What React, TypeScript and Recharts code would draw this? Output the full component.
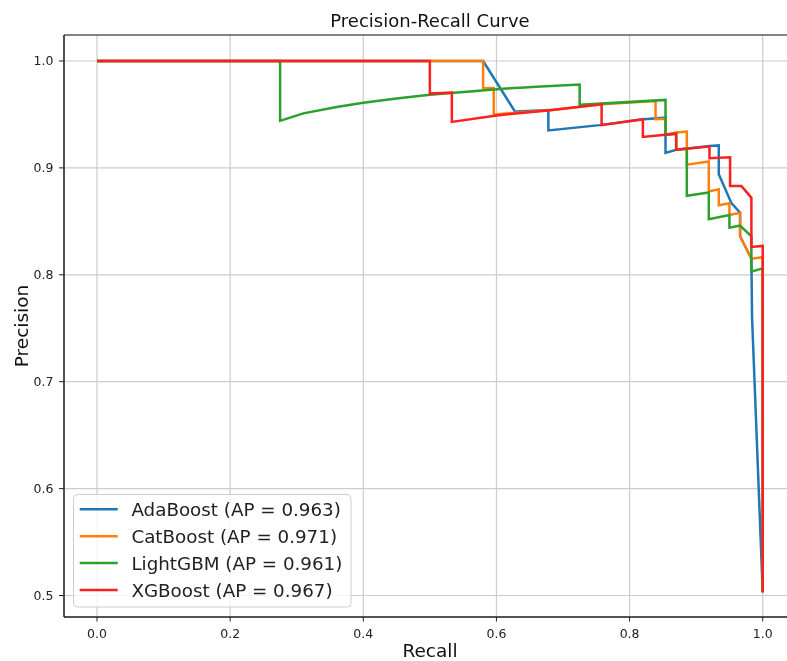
import React from 'react';
import { LineChart, Line, XAxis, YAxis, CartesianGrid, Legend, ReferenceArea, Label } from 'recharts';

const FONT = '"DejaVu Sans", Verdana, sans-serif';

const xTicks = [0, 0.2, 0.4, 0.6, 0.8, 1.0];
const yTicks = [0.5, 0.6, 0.7, 0.8, 0.9, 1.0];

const seriesNames = [
  'AdaBoost (AP = 0.963)',
  'CatBoost (AP = 0.971)',
  'LightGBM (AP = 0.961)',
  'XGBoost (AP = 0.967)',
];
const seriesColors = ['#1f77b4', '#ff7f0e', '#2ca02c', '#ff1f1f'];

const adaRecall = [0, 0.58, 0.628, 0.678, 0.678, 0.755, 0.821, 0.854, 0.854, 0.87, 0.92, 0.934, 0.934, 0.953, 0.966, 0.966, 0.983, 0.984, 1.0];
const adaPrecision = [1.0, 1.0, 0.9526, 0.954, 0.935, 0.94, 0.9455, 0.947, 0.914, 0.917, 0.9205, 0.921, 0.894, 0.867, 0.858, 0.836, 0.815, 0.76, 0.503];

const catRecall = [0, 0.58, 0.58, 0.596, 0.596, 0.68, 0.758, 0.839, 0.839, 0.854, 0.854, 0.87, 0.886, 0.886, 0.919, 0.919, 0.934, 0.934, 0.95, 0.95, 0.966, 0.966, 0.983, 1.0, 1.0];
const catPrecision = [1.0, 1.0, 0.9745, 0.9748, 0.95, 0.954, 0.9595, 0.9626, 0.9455, 0.946, 0.931, 0.933, 0.934, 0.903, 0.906, 0.878, 0.88, 0.865, 0.867, 0.856, 0.858, 0.836, 0.815, 0.8165, 0.503];

const lgbRecall = [0, 0.275, 0.275, 0.29, 0.31, 0.36, 0.4, 0.45, 0.5, 0.56, 0.61, 0.66, 0.725, 0.725, 0.854, 0.854, 0.87, 0.87, 0.886, 0.886, 0.919, 0.919, 0.95, 0.95, 0.966, 0.983, 0.983, 1.0, 1.0];
const lgbPrecision = [1.0, 1.0, 0.944, 0.947, 0.951, 0.957, 0.961, 0.965, 0.9685, 0.9715, 0.974, 0.976, 0.978, 0.959, 0.9636, 0.931, 0.932, 0.917, 0.918, 0.874, 0.877, 0.852, 0.856, 0.844, 0.846, 0.836, 0.803, 0.806, 0.503];

const xgbRecall = [0, 0.5, 0.5, 0.533, 0.533, 0.6, 0.68, 0.758, 0.758, 0.82, 0.82, 0.87, 0.87, 0.92, 0.92, 0.951, 0.951, 0.968, 0.983, 0.983, 1.0, 1.0];
const xgbPrecision = [1.0, 1.0, 0.9695, 0.9705, 0.943, 0.949, 0.954, 0.9595, 0.94, 0.9455, 0.929, 0.932, 0.917, 0.92, 0.909, 0.91, 0.883, 0.883, 0.872, 0.826, 0.827, 0.503];

const toPoints = (rs: number[], ps: number[]) => rs.map((r, i) => ({ r, p: ps[i] }));
const seriesData = [
  toPoints(adaRecall, adaPrecision),
  toPoints(catRecall, catPrecision),
  toPoints(lgbRecall, lgbPrecision),
  toPoints(xgbRecall, xgbPrecision),
];

const W = 779;
const H = 653;
const X_DOMAIN: [number, number] = [-0.0496, 1.05];
const Y_DOMAIN: [number, number] = [0.4799, 1.0243];

const LegendBox = (props: any) => {
  const payload = (props.payload || []) as any[];
  return (
    <svg width={279} height={114} style={{ display: 'block', overflow: 'visible' }}>
      <rect x={0.5} y={0.5} width={277.5} height={112.5} rx={4} ry={4} fill="#ffffff" fillOpacity={0.8} stroke="#cccccc" strokeWidth={1} />
      {payload.map((entry, i) => {
        const cy = 15.3 + i * 26.9;
        return (
          <g key={i}>
            <line x1={6.7} x2={44.7} y1={cy} y2={cy} stroke={entry.color} strokeWidth={2.5} />
            <text x={58.4} y={cy + 6.7} fontSize={18.3} fontFamily={FONT} fill="#222">{entry.value}</text>
          </g>
        );
      })}
    </svg>
  );
};

export default function App() {
  return (
    <div style={{ position: 'fixed', left: 8, top: 8, width: W, height: H, overflow: 'hidden' }}>
      <LineChart width={W} height={H} margin={{ top: 27, right: -9, bottom: 0, left: 0 }}>
        <CartesianGrid stroke="#cccccc" strokeWidth={1.2} />
        <XAxis
          type="number"
          dataKey="r"
          domain={X_DOMAIN}
          allowDataOverflow
          ticks={xTicks}
          tickFormatter={(v: number) => v.toFixed(1)}
          height={44}
          tickSize={4.5}
          tickMargin={7.3}
          stroke="#222"
          tick={{ fill: '#222', fontSize: 12.5, fontFamily: FONT }}
        >
          <Label
            content={(p: any) => {
              const vb = p.viewBox || { x: 56, y: 609, width: 732, height: 44 };
              return (
                <text x={vb.x + vb.width / 2} y={vb.y + vb.height - 4} textAnchor="middle" fontSize={18.5} fontFamily={FONT} fill="#111">Recall</text>
              );
            }}
          />
        </XAxis>
        <YAxis
          type="number"
          dataKey="p"
          domain={Y_DOMAIN}
          allowDataOverflow
          ticks={yTicks}
          tickFormatter={(v: number) => v.toFixed(1)}
          width={56}
          tickSize={5}
          tickMargin={5.5}
          stroke="#222"
          tick={{ fill: '#222', fontSize: 12.5, fontFamily: FONT }}
        >
          <Label
            content={(p: any) => {
              const vb = p.viewBox || { x: 0, y: 27, width: 56, height: 582 };
              const cx = vb.x + 19.5;
              const cy = vb.y + vb.height / 2;
              return (
                <text x={cx} y={cy} transform={`rotate(-90 ${cx} ${cy})`} textAnchor="middle" fontSize={18.5} fontFamily={FONT} fill="#111">Precision</text>
              );
            }}
          />
        </YAxis>
        <ReferenceArea x1={X_DOMAIN[0]} x2={X_DOMAIN[1]} y1={Y_DOMAIN[0]} y2={Y_DOMAIN[1]} fill="none" fillOpacity={0} stroke="#222" strokeWidth={1} />
        {seriesData.map((d, i) => (
          <Line
            key={seriesNames[i]}
            data={d}
            dataKey="p"
            name={seriesNames[i]}
            type="linear"
            stroke={seriesColors[i]}
            strokeWidth={2.5}
            dot={false}
            activeDot={false}
            isAnimationActive={false}
          />
        ))}
        <Legend
          layout="vertical"
          align="center"
          verticalAlign="middle"
          content={LegendBox}
          wrapperStyle={{ left: 65.3, top: 486, width: 279, height: 114 }}
        />
      </LineChart>
      <svg width={W} height={30} style={{ position: 'absolute', left: 0, top: 0, pointerEvents: 'none' }}>
        <text x={422} y={18.7} textAnchor="middle" fontSize={18} fontFamily={FONT} fill="#111">Precision-Recall Curve</text>
      </svg>
    </div>
  );
}
